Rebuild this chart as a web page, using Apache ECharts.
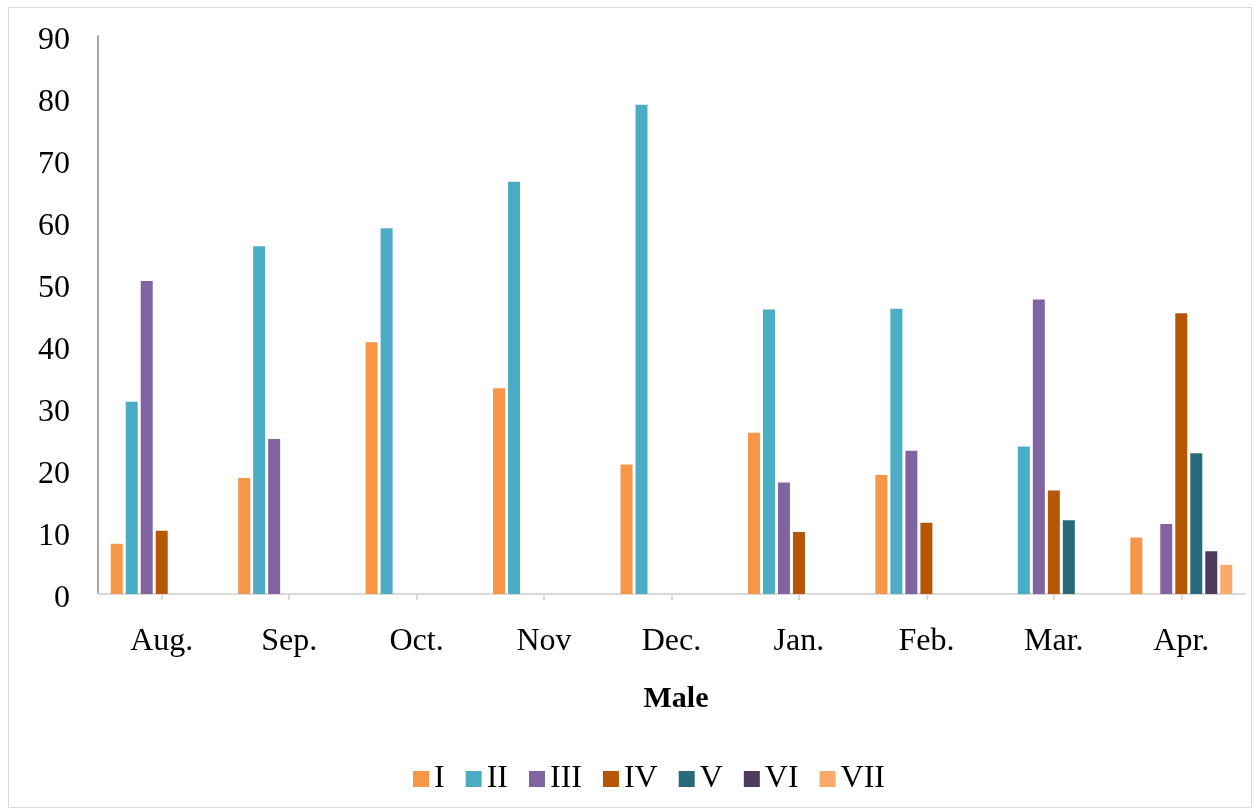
<!DOCTYPE html>
<html>
<head>
<meta charset="utf-8">
<script src="https://cdn.jsdelivr.net/npm/echarts@6/dist/echarts.min.js"></script>
<style>html,body{margin:0;padding:0;background:#fff;}#c{width:1255px;height:811px;}</style>
</head>
<body>
<div id="c"></div>
<script>
const categories = ['Aug.', 'Sep.', 'Oct.', 'Nov', 'Dec.', 'Jan.', 'Feb.', 'Mar.', 'Apr.'];
const seriesNames = ['I', 'II', 'III', 'IV', 'V', 'VI', 'VII'];
const sI   = [8.1, 18.7, 40.6, 33.2, 20.9, 26.0, 19.2, 0, 9.1];
const sII  = [31.0, 56.1, 59.0, 66.5, 78.9, 45.9, 46.0, 23.8, 0];
const sIII = [50.5, 25.0, 0, 0, 0, 18.0, 23.1, 47.5, 11.3];
const sIV  = [10.2, 0, 0, 0, 0, 10.0, 11.5, 16.7, 45.3];
const sV   = [0, 0, 0, 0, 0, 0, 0, 11.9, 22.7];
const sVI  = [0, 0, 0, 0, 0, 0, 0, 0, 6.9];
const sVII = [0, 0, 0, 0, 0, 0, 0, 0, 4.7];
const yTicks = { min: 0, max: 90, interval: 10 };
const xTitle = 'Male';

const colors = ['#F79646', '#4BACC6', '#8064A2', '#B65708', '#276A7C', '#4F3B62', '#F9AA6B'];
const allData = [sI, sII, sIII, sIV, sV, sVI, sVII];
const font = '"Liberation Serif", "Times New Roman", serif';

const chart = echarts.init(document.getElementById('c'), null, { renderer: 'canvas' });
chart.setOption({
  animation: false,
  backgroundColor: '#fff',
  color: colors,
  graphic: [{
    type: 'rect', shape: { x: 8.5, y: 7.5, width: 1243, height: 800 },
    style: { fill: 'none', stroke: '#D9D9D9', lineWidth: 1 }, silent: true, z: -1
  }],
  title: {
    text: xTitle, left: 671, top: 679, textAlign: 'center',
    textStyle: { fontFamily: font, fontSize: 30, fontWeight: 'bold', color: '#000' }
  },
  legend: {
    data: seriesNames, left: 408, top: 758, itemWidth: 16, itemHeight: 16,
    itemGap: 21, icon: 'rect',
    textStyle: { fontFamily: font, fontSize: 32, color: '#000' }
  },
  grid: { left: 98, right: 10, top: 36, bottom: 217 },
  xAxis: {
    type: 'category', data: categories,
    axisLine: { lineStyle: { color: '#D9D9D9', width: 2 } },
    axisTick: { show: true, alignWithLabel: true, length: 6, lineStyle: { color: '#D9D9D9', width: 2 } },
    axisLabel: { fontFamily: font, fontSize: 32, color: '#000', margin: 32 }
  },
  yAxis: {
    type: 'value', min: yTicks.min, max: yTicks.max, interval: yTicks.interval,
    axisLine: { show: true, lineStyle: { color: '#A6A6A6', width: 2 } },
    axisTick: { show: false },
    splitLine: { show: false },
    axisLabel: { fontFamily: font, fontSize: 32, color: '#000', margin: 28, verticalAlign: 'top', lineHeight: 10 }
  },
  series: seriesNames.map((n, i) => ({
    name: n, type: 'bar', data: allData[i], barWidth: 12, barGap: '25%',
    itemStyle: { color: colors[i] }
  }))
});
</script>
</body>
</html>
